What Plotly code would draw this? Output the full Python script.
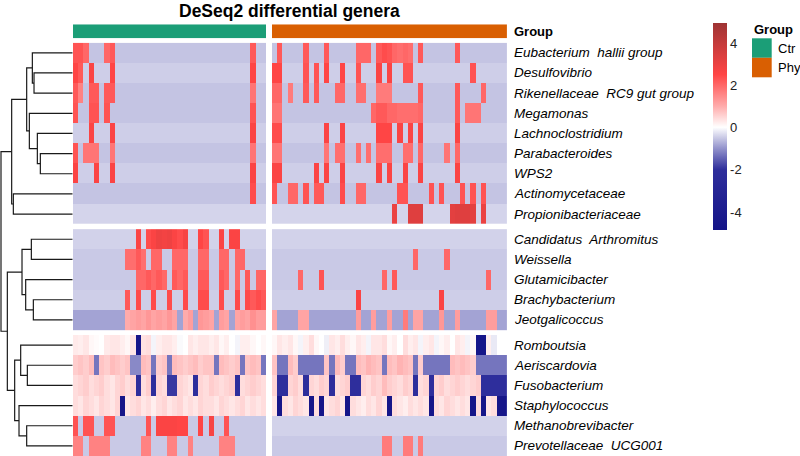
import plotly.graph_objects as go

W, H = 800, 456
FONT = "Liberation Sans, Arial, sans-serif"

title = "DeSeq2 differential genera"
genera = [
    "Eubacterium\u00a0 hallii group", "Desulfovibrio", "Rikenellaceae\u00a0 RC9 gut group",
    "Megamonas", "Lachnoclostridium", "Parabacteroides", "WPS2", "Actinomycetaceae",
    "Propionibacteriaceae",
    "Candidatus\u00a0 Arthromitus", "Weissella", "Glutamicibacter", "Brachybacterium",
    "Jeotgalicoccus",
    "Romboutsia", "Aeriscardovia", "Fusobacterium", "Staphylococcus",
    "Methanobrevibacter", "Prevotellaceae\u00a0 UCG001",
]
block_of_row = [0] * 9 + [1] * 5 + [2] * 6
groups = ["Ctr", "Phy"]
group_colors = ["#1B9E77", "#D95F02"]
n_ctr, n_phy = 37, 45

# ---- row-scaled values, Ctr samples (37 columns) ----
ctr_values = [
    [2.3, 2.3, 2.0, -0.55, -0.55, -0.55, 2.0, 2.2, -0.55, -0.55,
     -0.55, -0.55, -0.55, -0.55, -0.55, -0.55, -0.55, -0.55, -0.55, -0.55,
     -0.55, -0.55, -0.55, -0.55, -0.55, -0.55, -0.55, -0.55, -0.55, -0.55,
     -0.55, -0.55, -0.55, -0.55, 2.2, -0.55, -0.55],
    [2.5, 2.2, -0.45, 2.6, -0.45, -0.45, -0.45, 2.5, -0.45, -0.45,
     -0.45, -0.45, -0.45, -0.45, -0.45, -0.45, -0.45, -0.45, -0.45, -0.45,
     -0.45, -0.45, -0.45, -0.45, -0.45, -0.45, -0.45, -0.45, -0.45, -0.45,
     -0.45, -0.45, -0.45, -0.45, 2.5, -0.45, -0.45],
    [2.2, 1.6, -0.55, 2.2, 2.2, -0.55, 2.2, 2.2, -0.55, -0.55,
     -0.55, -0.55, -0.55, -0.55, -0.55, -0.55, -0.55, -0.55, -0.55, -0.55,
     -0.55, -0.55, -0.55, -0.55, -0.55, -0.55, -0.55, -0.55, -0.55, -0.55,
     -0.55, -0.55, -0.55, -0.55, 1.8, -0.55, -0.55],
    [2.3, -0.55, -0.55, 2.3, 2.3, -0.55, 2.3, -0.55, -0.55, -0.55,
     -0.55, -0.55, -0.55, -0.55, -0.55, -0.55, -0.55, -0.55, -0.55, -0.55,
     -0.55, -0.55, -0.55, -0.55, -0.55, -0.55, -0.55, -0.55, -0.55, -0.55,
     -0.55, -0.55, -0.55, -0.55, 2.3, -0.55, -0.55],
    [-0.45, -0.45, -0.45, 2.6, -0.45, -0.45, -0.45, 2.6, -0.45, -0.45,
     -0.45, -0.45, -0.45, -0.45, -0.45, -0.45, -0.45, -0.45, -0.45, -0.45,
     -0.45, -0.45, -0.45, -0.45, -0.45, -0.45, -0.45, -0.45, -0.45, -0.45,
     -0.45, -0.45, -0.45, -0.45, 2.6, -0.45, -0.45],
    [2.3, -0.55, 1.8, 1.8, 1.8, -0.55, -0.55, 1.8, -0.55, -0.55,
     -0.55, -0.55, -0.55, -0.55, -0.55, -0.55, -0.55, -0.55, -0.55, -0.55,
     -0.55, -0.55, -0.55, -0.55, -0.55, -0.55, -0.55, -0.55, -0.55, -0.55,
     -0.55, -0.55, -0.55, -0.55, 1.8, -0.55, -0.55],
    [2.6, -0.45, -0.45, -0.45, 2.6, -0.45, -0.45, 2.6, -0.45, -0.45,
     -0.45, -0.45, -0.45, -0.45, -0.45, -0.45, -0.45, -0.45, -0.45, -0.45,
     -0.45, -0.45, -0.45, -0.45, -0.45, -0.45, -0.45, -0.45, -0.45, -0.45,
     -0.45, -0.45, -0.45, -0.45, 2.6, -0.45, -0.45],
    [-0.55, -0.55, -0.55, -0.55, -0.55, -0.55, -0.55, -0.55, -0.55, -0.55,
     -0.55, -0.55, -0.55, -0.55, -0.55, -0.55, -0.55, -0.55, -0.55, -0.55,
     -0.55, -0.55, -0.55, -0.55, -0.55, -0.55, -0.55, -0.55, -0.55, -0.55,
     -0.55, -0.55, -0.55, -0.55, 2.4, -0.55, -0.55],
    [-0.4, -0.4, -0.4, -0.4, -0.4, -0.4, -0.4, -0.4, -0.4, -0.4,
     -0.4, -0.4, -0.4, -0.4, -0.4, -0.4, -0.4, -0.4, -0.4, -0.4,
     -0.4, -0.4, -0.4, -0.4, -0.4, -0.4, -0.4, -0.4, -0.4, -0.4,
     -0.4, -0.4, -0.4, -0.4, -0.4, -0.4, -0.4],
    # block 2
    [-0.42, -0.42, -0.42, -0.42, -0.42, -0.42, -0.42, -0.42, -0.42, -0.42,
     -0.42, -0.42, 2.6, -0.42, 2.4, 2.6, 2.9, 2.8, 2.9, 2.6,
     2.4, 2.7, -0.42, -0.42, 2.5, 2.3, -0.42, -0.42, 2.6, -0.42,
     2.6, 2.6, -0.42, -0.42, -0.42, -0.42, -0.42],
    [-0.5, -0.5, -0.5, -0.5, -0.5, -0.5, -0.5, -0.5, -0.5, -0.5,
     1.9, 1.9, 2.2, 1.9, -0.5, 2.0, 2.0, -0.5, -0.5, 2.0,
     2.0, 2.0, -0.5, -0.5, 2.0, 2.0, -0.5, -0.5, 2.0, 2.0,
     -0.5, 2.0, 2.0, -0.5, -0.5, -0.5, -0.5],
    [-0.5, -0.5, -0.5, -0.5, -0.5, -0.5, -0.5, -0.5, -0.5, -0.5,
     -0.5, -0.5, 2.0, 2.0, 2.2, 2.0, 2.2, 2.0, -0.5, 2.2,
     2.0, 2.2, -0.5, -0.5, 2.2, 2.2, -0.5, -0.5, 2.2, 2.0,
     -0.5, 2.0, -0.5, 2.2, -0.5, 2.0, 2.0],
    [-0.45, -0.45, -0.45, -0.45, -0.45, -0.45, -0.45, -0.45, -0.45, -0.45,
     2.2, -0.45, 2.4, -0.45, -0.45, 2.4, -0.45, -0.45, 2.4, -0.45,
     -0.45, 2.4, -0.45, -0.45, 2.4, 2.4, -0.45, -0.45, 2.4, -0.45,
     -0.45, 2.4, -0.45, 2.4, 2.2, 2.4, 2.2],
    [-0.85, -0.85, -0.85, -0.85, -0.85, -0.85, -0.85, -0.85, -0.85, -0.85,
     1.0, 1.1, 1.2, 1.1, 1.3, 1.1, 1.2, 1.1, 1.3, 1.1,
     -0.85, 1.0, 1.2, -0.85, 1.3, 1.2, 1.1, -0.85, 1.2, 1.1,
     -0.85, 1.1, 1.2, 1.1, 1.4, 1.2, 1.2],
    # block 3
    [0.25, 0.2, 0.3, 0.1, 0.05, 0.0, 0.25, 0.3, 0.3, 0.2,
     0.1, 0.3, -4.6, 0.35, 0.4, -0.1, 0.2, 0.3, 0.3, 0.2,
     -0.05, 0.0, 0.3, 0.2, 0.3, 0.3, 0.2, 0.3, 0.1, 0.2,
     0.0, -0.1, 0.2, 0.2, 0.1, 0.0, 0.1],
    [0.6, 0.7, 0.6, 0.8, -1.3, 0.7, 0.6, 0.8, 0.7, 0.6,
     0.7, -1.1, -1.1, 0.8, 0.7, -1.3, 0.6, 0.7, -1.3, 0.8,
     0.7, 0.6, 0.7, 0.8, 0.6, 0.7, 0.7, -1.3, 0.8, 0.7,
     0.6, 0.7, -1.3, 0.7, 0.8, 0.7, -1.3],
    [0.4, 0.5, 0.6, 0.4, 0.5, 0.6, 0.4, 0.3, 0.5, 0.6,
     0.4, 0.5, -2.0, 0.4, 0.6, -2.0, 0.5, 0.4, -1.9, -1.9,
     0.5, 0.4, 0.3, -2.0, 0.5, 0.4, 0.6, 0.5, 0.4, 0.5,
     0.6, -2.0, 0.4, 0.5, 0.6, 0.5, 0.4],
    [0.4, 0.3, 0.5, 0.4, 0.3, 0.5, 0.4, 0.3, 0.5, -4.7,
     0.3, 0.4, 0.5, 0.3, 0.4, 0.2, 0.4, 0.5, 0.3, 0.4,
     0.5, 0.3, 0.4, 0.3, 0.5, 0.4, 0.4, 0.3, 0.5, 0.4,
     0.3, 0.4, 0.5, 0.3, 0.4, 0.3, 0.4],
    [2.3, -0.5, 2.3, 2.3, -0.5, -0.5, 2.3, 2.3, -0.5, -0.5,
     -0.5, -0.5, -0.5, -0.5, 2.3, -0.5, 2.6, 2.6, 2.6, 2.6,
     2.5, 2.5, -0.5, -0.5, 2.5, -0.5, 2.7, -0.5, -0.5, 2.3,
     -0.5, -0.5, -0.5, -0.5, -0.5, -0.5, -0.5],
    [1.6, 1.6, -0.5, 1.6, 1.6, 1.6, 1.6, -0.5, -0.5, -0.5,
     -0.5, -0.5, -0.5, 1.6, 1.6, -0.5, -0.5, -0.5, 1.6, 1.6,
     -0.5, -0.5, 1.6, -0.5, -0.5, -0.5, -0.5, -0.5, 1.6, 1.6,
     1.6, -0.5, -0.5, -0.5, -0.5, -0.5, -0.5],
]

# ---- row-scaled values, Phy samples (45 columns) ----
phy_values = [
    [-0.55, 2.2, -0.55, -0.55, -0.55, -0.55, 2.2, -0.55, -0.55, -0.55,
     2.2, -0.55, -0.55, -0.55, -0.55, -0.55, 2.0, 2.0, 2.0, -0.55,
     2.2, 2.4, 2.3, 2.0, 1.9, 2.0, 1.9, -0.55, 2.2, -0.55,
     -0.55, -0.55, -0.55, -0.55, -0.55, 2.2, -0.55, -0.55, -0.55, -0.55,
     -0.55, -0.55, -0.55, -0.55, -0.55],
    [2.5, 2.5, -0.45, -0.45, -0.45, -0.45, 2.3, -0.45, 2.3, -0.45,
     2.5, -0.45, -0.45, 2.5, -0.45, -0.45, 2.3, -0.45, -0.45, -0.45,
     2.6, -0.45, 2.6, -0.45, -0.45, 2.3, 2.3, -0.45, -0.45, -0.45,
     -0.45, -0.45, -0.45, -0.45, -0.45, -0.45, -0.45, -0.45, 2.3, -0.45,
     -0.45, -0.45, -0.45, -0.45, -0.45],
    [2.0, 2.0, -0.55, 1.7, -0.55, -0.55, 2.2, -0.55, 2.2, -0.55,
     -0.55, -0.55, 2.0, 2.0, -0.55, -0.55, 1.9, 1.9, -0.55, -0.55,
     1.7, 1.7, 1.7, -0.55, -0.55, -0.55, -0.55, -0.55, 2.2, -0.55,
     -0.55, -0.55, -0.55, -0.55, -0.55, 2.2, -0.55, -0.55, -0.55, -0.55,
     2.0, -0.55, -0.55, -0.55, -0.55],
    [1.8, 1.8, -0.55, -0.55, -0.55, -0.55, -0.55, -0.55, -0.55, -0.55,
     -0.55, -0.55, -0.55, -0.55, -0.55, -0.55, -0.55, -0.55, -0.55, 2.0,
     2.2, 2.2, 2.0, 2.0, 1.9, 1.9, 1.9, 1.9, 2.0, -0.55,
     -0.55, -0.55, -0.55, -0.55, -0.55, 2.2, -0.55, 1.8, 1.8, 1.8,
     -0.55, -0.55, -0.55, -0.55, -0.55],
    [2.4, 2.4, -0.45, -0.45, -0.45, -0.45, -0.45, -0.45, -0.45, -0.45,
     2.6, -0.45, -0.45, 2.6, -0.45, -0.45, -0.45, -0.45, -0.45, -0.45,
     2.5, 2.5, 2.5, -0.45, 2.6, -0.45, 2.6, -0.45, 2.6, -0.45,
     -0.45, -0.45, -0.45, -0.45, -0.45, 2.6, -0.45, -0.45, -0.45, -0.45,
     -0.45, -0.45, -0.45, -0.45, -0.45],
    [1.8, 1.8, -0.55, -0.55, -0.55, -0.55, -0.55, -0.55, -0.55, -0.55,
     1.8, -0.55, 1.9, 1.9, -0.55, -0.55, 1.9, -0.55, 1.9, -0.55,
     1.9, 1.9, 1.9, -0.55, -0.55, 1.9, 1.9, -0.55, 2.0, -0.55,
     -0.55, -0.55, -0.55, 1.8, -0.55, 2.0, -0.55, -0.55, -0.55, -0.55,
     -0.55, -0.55, -0.55, -0.55, -0.55],
    [2.6, 2.6, -0.45, -0.45, -0.45, -0.45, -0.45, -0.45, 2.6, -0.45,
     2.6, -0.45, -0.45, 2.6, -0.45, -0.45, -0.45, -0.45, -0.45, -0.45,
     2.6, -0.45, 2.6, -0.45, -0.45, 2.6, -0.45, -0.45, 2.6, -0.45,
     -0.45, -0.45, -0.45, -0.45, -0.45, 2.6, -0.45, -0.45, -0.45, -0.45,
     -0.45, -0.45, -0.45, -0.45, -0.45],
    [2.3, -0.55, -0.55, 2.0, 2.0, -0.55, 2.3, -0.55, 2.2, 2.2,
     -0.55, -0.55, -0.55, 2.4, -0.55, -0.55, 2.0, 2.0, -0.55, -0.55,
     -0.55, -0.55, -0.55, -0.55, 2.3, 2.3, -0.55, -0.55, -0.55, -0.55,
     2.3, -0.55, 2.3, -0.55, -0.55, -0.55, 2.3, -0.55, 2.3, -0.55,
     2.3, -0.55, -0.55, -0.55, -0.55],
    [-0.4, -0.4, -0.4, -0.4, -0.4, -0.4, -0.4, -0.4, -0.4, -0.4,
     -0.4, -0.4, -0.4, -0.4, -0.4, -0.4, -0.4, -0.4, -0.4, -0.4,
     -0.4, -0.4, -0.4, 3.0, -0.4, -0.4, 3.3, 3.3, 3.3, -0.4,
     -0.4, -0.4, -0.4, -0.4, 3.2, 3.3, 3.3, 3.3, 3.2, -0.4,
     3.0, -0.4, -0.4, -0.4, -0.4],
    # block 2
    [-0.42, -0.42, -0.42, -0.42, -0.42, -0.42, -0.42, -0.42, -0.42, -0.42,
     -0.42, -0.42, -0.42, -0.42, -0.42, -0.42, -0.42, -0.42, -0.42, -0.42,
     -0.42, -0.42, -0.42, -0.42, -0.42, -0.42, -0.42, -0.42, -0.42, -0.42,
     -0.42, -0.42, -0.42, -0.42, -0.42, -0.42, -0.42, -0.42, -0.42, -0.42,
     -0.42, -0.42, -0.42, -0.42, -0.42],
    [-0.5, -0.5, -0.5, -0.5, -0.5, -0.5, -0.5, -0.5, -0.5, -0.5,
     -0.5, -0.5, -0.5, -0.5, -0.5, -0.5, -0.5, -0.5, -0.5, -0.5,
     -0.5, -0.5, -0.5, -0.5, -0.5, -0.5, -0.5, 2.0, -0.5, -0.5,
     -0.5, -0.5, -0.5, 2.0, -0.5, -0.5, -0.5, -0.5, -0.5, -0.5,
     -0.5, -0.5, -0.5, -0.5, -0.5],
    [-0.5, -0.5, -0.5, -0.5, -0.5, 2.0, -0.5, -0.5, -0.5, 2.3,
     -0.5, -0.5, -0.5, -0.5, -0.5, -0.5, -0.5, -0.5, -0.5, -0.5,
     -0.5, 2.0, -0.5, 2.2, -0.5, -0.5, -0.5, -0.5, -0.5, -0.5,
     -0.5, -0.5, -0.5, -0.5, -0.5, -0.5, -0.5, -0.5, -0.5, -0.5,
     -0.5, 2.0, -0.5, -0.5, -0.5],
    [-0.45, -0.45, -0.45, -0.45, -0.45, -0.45, -0.45, -0.45, -0.45, -0.45,
     -0.45, -0.45, -0.45, -0.45, -0.45, -0.45, 2.6, -0.45, -0.45, -0.45,
     -0.45, -0.45, -0.45, -0.45, -0.45, -0.45, -0.45, -0.45, -0.45, -0.45,
     -0.45, -0.45, 2.6, -0.45, -0.45, -0.45, -0.45, -0.45, -0.45, -0.45,
     -0.45, -0.45, -0.45, -0.45, -0.45],
    [1.1, -0.85, -0.85, -0.85, -0.85, 1.1, 1.1, -0.85, -0.85, -0.85,
     -0.85, -0.85, -0.85, -0.85, -0.85, -0.85, 1.2, -0.85, -0.85, 1.2,
     -0.85, -0.85, 1.2, -0.85, -0.85, 1.7, -0.85, 1.1, 1.1, -0.85,
     -0.85, -0.85, 1.3, -0.85, -0.85, 1.2, -0.85, -0.85, -0.85, -0.85,
     -0.85, 1.2, 1.2, -0.85, -0.85],
    # block 3
    [0.1, 0.3, 0.2, 0.3, 0.1, -0.1, 0.2, 0.4, 0.1, 0.0,
     -0.15, 0.3, 0.2, 0.4, 0.2, 0.1, 0.3, 0.2, -0.1, 0.3,
     0.3, 0.4, 0.1, 0.2, 0.0, 0.4, 0.2, 0.3, -0.1, 0.2,
     0.3, -0.1, 0.1, 0.2, 0.0, 0.3, 0.2, -0.1, 0.1, -4.6,
     -4.6, 0.2, -0.2, 0.0, 0.0],
    [0.7, -1.3, -1.3, 0.8, 0.6, -1.3, -1.3, -1.3, -1.3, -1.3,
     0.7, -1.3, 0.8, 0.6, -1.3, -1.3, 0.8, 0.7, 0.9, 0.8,
     0.7, -1.3, 0.8, 0.7, 0.9, 0.8, 0.7, -1.3, 0.6, -1.3,
     -1.3, -1.3, -1.3, -1.3, 0.8, 0.7, 0.8, 0.7, 0.6, -1.3,
     -1.3, -1.3, -1.3, -1.3, -1.3],
    [0.5, -2.0, -2.0, 0.5, 0.6, 0.4, -2.0, 0.5, 0.4, 0.6,
     0.5, -2.0, 0.4, 0.5, 0.6, -2.0, -2.0, 0.5, 0.4, 0.6,
     0.5, 0.8, 0.6, 0.5, 0.4, 0.6, 0.5, -2.0, 0.4, 0.5,
     -2.0, 0.5, 0.6, 0.4, 0.5, 0.6, 0.5, 0.4, 0.5, 0.6,
     -2.0, -2.0, -2.0, -2.0, -2.0],
    [0.3, -4.7, 0.4, 0.3, 0.5, 0.4, 0.3, -4.7, 0.4, -4.7,
     0.3, 0.4, 0.5, 0.3, -4.7, 0.4, 0.3, 0.2, 0.4, 0.3,
     0.5, 0.3, -4.7, 0.4, 0.3, 0.2, 0.4, 0.3, 0.4, 0.3,
     -4.7, 0.4, 0.3, 0.5, 0.4, 0.3, 0.4, 0.3, -4.7, 0.4,
     -4.7, 0.3, 0.4, -4.7, -4.7],
    [-0.42, -0.42, -0.42, -0.42, -0.42, -0.42, -0.42, -0.42, -0.42, -0.42,
     -0.42, -0.42, -0.42, -0.42, -0.42, -0.42, -0.42, -0.42, -0.42, -0.42,
     -0.42, -0.42, -0.42, -0.42, -0.42, -0.42, -0.42, -0.42, -0.42, -0.42,
     -0.42, -0.42, -0.42, -0.42, -0.42, -0.42, -0.42, -0.42, -0.42, -0.42,
     -0.42, -0.42, -0.42, -0.42, -0.42],
    [-0.5, -0.5, -0.5, -0.5, -0.5, -0.5, -0.5, -0.5, -0.5, -0.5,
     -0.5, -0.5, -0.5, -0.5, -0.5, -0.5, -0.5, -0.5, -0.5, -0.5,
     -0.5, 1.7, 1.7, -0.5, -0.5, 1.7, 1.7, -0.5, 1.7, -0.5,
     -0.5, -0.5, -0.5, -0.5, -0.5, -0.5, -0.5, -0.5, -0.5, -0.5,
     -0.5, -0.5, -0.5, -0.5, -0.5],
]

# ---- row dendrogram: (child a, child b, merge height); leaves 0..19, new nodes 20.. ----
merges = [
    (1, 2, 116), (0, 20, 121), (5, 6, 97), (4, 22, 106), (3, 23, 130),
    (21, 24, 138), (7, 8, 178), (25, 26, 183), (9, 10, 124), (12, 13, 118),
    (11, 29, 141), (28, 30, 152), (15, 16, 136), (14, 32, 156), (18, 19, 138),
    (17, 34, 161), (33, 35, 174), (31, 36, 196), (27, 37, 215),
]

color_min, color_max = -4.87, 4.94
color_stops = [(-4.87, "#141488"), (-2.0, "#2e2e9c"), (-1.0, "#9393cc"), (0.0, "#ffffff"),
               (1.0, "#ffabab"), (2.5, "#ff4545"), (4.94, "#9e3434")]
colorbar_ticks = [-4, -2, 0, 2, 4]
colorbar_ticktext = ["-4", "-2", "0", "2", "4"]

for r in ctr_values:
    assert len(r) == n_ctr
for r in phy_values:
    assert len(r) == n_phy

# ---------------- geometry (pixels of the 800x456 page) ----------------
hm_left, hm_top, hm_bottom = 73.0, 42.7, 456.0
col_px = 5.22
phy_left_px = 272.0
row_px_gap = 5.0
gap_rows = row_px_gap / 20.17
row_y = [k + gap_rows * block_of_row[k] for k in range(len(genera))]
y_bottom = len(genera) - 0.5 + gap_rows * 2
phy_offset = (phy_left_px - hm_left) / col_px  # in column units
ctr_x = [i for i in range(n_ctr)]
phy_x = [phy_offset + j for j in range(n_phy)]
x_right = phy_offset + n_phy - 0.5
hm_right = hm_left + (x_right + 0.5) * col_px


def px(x):
    return x / W


def py(y):
    return 1 - y / H


colorscale = [[(v - color_min) / (color_max - color_min), c] for v, c in color_stops]

fig = go.Figure()

# heatmap blocks
for b in range(3):
    rows = [k for k in range(len(genera)) if block_of_row[k] == b]
    for xs, vals in ((ctr_x, ctr_values), (phy_x, phy_values)):
        fig.add_trace(go.Heatmap(
            z=[vals[k] for k in rows], x=xs, y=[row_y[k] for k in rows],
            coloraxis="coloraxis", xaxis="x", yaxis="y", hoverinfo="skip"))

# group annotation bar
for xs, col in ((ctr_x, group_colors[0]), (phy_x, group_colors[1])):
    fig.add_trace(go.Heatmap(
        z=[[0] * len(xs)], x=xs, y=[0], colorscale=[[0, col], [1, col]],
        showscale=False, xaxis="x", yaxis="y2", hoverinfo="skip"))

# dendrogram
node_y = {k: row_y[k] for k in range(len(genera))}
node_h = {k: 0.0 for k in range(len(genera))}
dx, dy = [], []
for i, (a, b, h) in enumerate(merges):
    nid = len(genera) + i
    dx += [node_h[a], h, h, node_h[b], None]
    dy += [node_y[a], node_y[a], node_y[b], node_y[b], None]
    node_y[nid] = (node_y[a] + node_y[b]) / 2
    node_h[nid] = h
fig.add_trace(go.Scatter(x=dx, y=dy, mode="lines", line=dict(color="#1a1a1a", width=1.2),
                         xaxis="x2", yaxis="y", hoverinfo="skip", showlegend=False))

annotations = []
for k, g in enumerate(genera):
    annotations.append(dict(x=px(512), xref="paper", y=row_y[k], yref="y", xanchor="left",
                            yanchor="middle", text="<i>%s</i>" % g, showarrow=False,
                            font=dict(family=FONT, size=13.5, color="#000")))
annotations.append(dict(x=px(512), y=py(31.5), xref="paper", yref="paper", xanchor="left",
                        yanchor="middle", text="<b>Group</b>", showarrow=False,
                        font=dict(family=FONT, size=13, color="#000")))
annotations.append(dict(x=px(289.5), y=py(11), xref="paper", yref="paper", xanchor="center",
                        yanchor="middle", text="<b>%s</b>" % title, showarrow=False,
                        font=dict(family=FONT, size=17.5, color="#000")))
# legend for groups
annotations.append(dict(x=px(752), y=py(30), xref="paper", yref="paper", xanchor="left",
                        yanchor="middle", text="<b>Group</b>", showarrow=False,
                        font=dict(family=FONT, size=13, color="#000")))
shapes = []
for i, (g, col) in enumerate(zip(groups, group_colors)):
    top = 38.3 + i * 19.5
    shapes.append(dict(type="rect", xref="paper", yref="paper", x0=px(752), x1=px(771.7),
                       y0=py(top + 19.5), y1=py(top), fillcolor=col, line=dict(width=0)))
    annotations.append(dict(x=px(775.5), y=py(top + 9.75), xref="paper", yref="paper",
                            xanchor="left", yanchor="middle", text=g, showarrow=False,
                            font=dict(family=FONT, size=13, color="#000")))

fig.update_layout(
    width=W, height=H, margin=dict(l=0, r=0, t=0, b=0),
    paper_bgcolor="white", plot_bgcolor="white", showlegend=False,
    font=dict(family=FONT),
    xaxis=dict(domain=[px(hm_left), px(hm_right)], range=[-0.5, x_right], visible=False,
               anchor="y"),
    yaxis=dict(domain=[0, py(hm_top)], range=[y_bottom, -0.5], visible=False, anchor="x"),
    yaxis2=dict(domain=[py(38.3), py(24.3)], range=[-0.5, 0.5], visible=False, anchor="x"),
    xaxis2=dict(domain=[0, px(hm_left - 0.3)], range=[218, 0], visible=False, anchor="y"),
    coloraxis=dict(
        colorscale=colorscale, cmin=color_min, cmax=color_max,
        colorbar=dict(x=px(712.7), xanchor="left", y=py(23.3), yanchor="top",
                      len=206.7, lenmode="pixels", thickness=14, thicknessmode="pixels",
                      xpad=0, ypad=0, outlinewidth=0, tickvals=colorbar_ticks,
                      ticktext=colorbar_ticktext,
                      ticks="", tickfont=dict(family=FONT, size=13, color="#222")),
    ),
    annotations=annotations, shapes=shapes,
)

fig.write_html("out.html", config={"displayModeBar": False},
               post_script="document.body.style.margin='0px';"
               "document.body.style.overflow='hidden';")
